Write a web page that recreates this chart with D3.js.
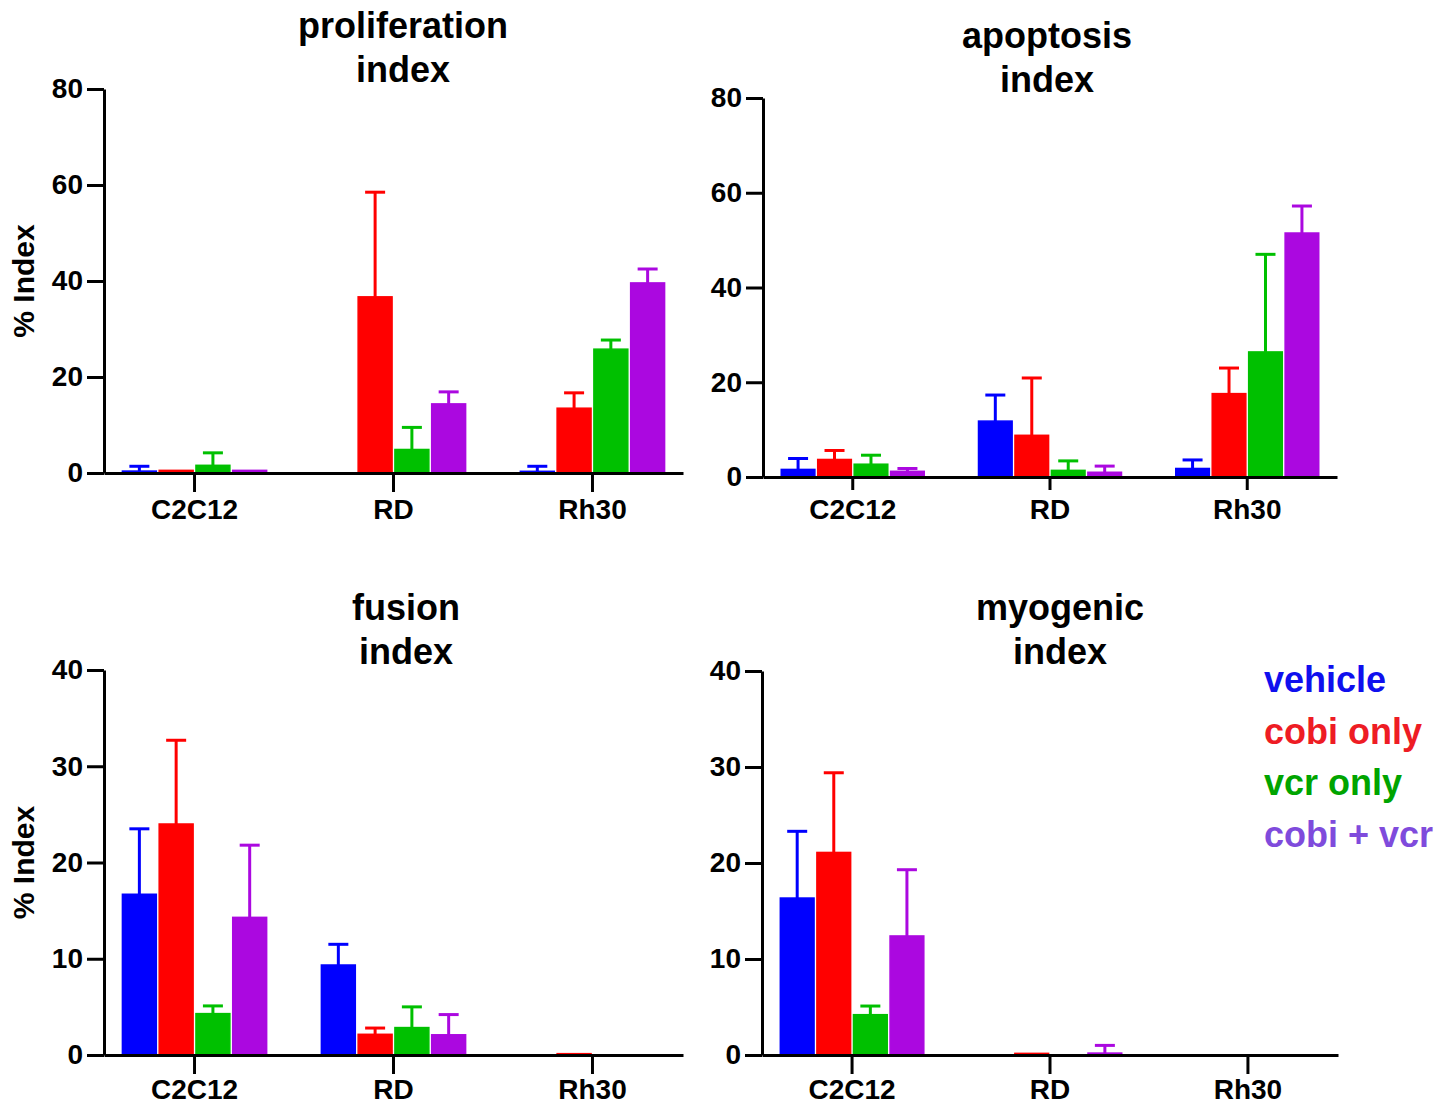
<!DOCTYPE html>
<html>
<head>
<meta charset="utf-8">
<script src="https://cdnjs.cloudflare.com/ajax/libs/d3/7.8.5/d3.min.js"></script>
<style>
    body { margin: 0; background: #fff; }
    svg text { font-family: "Liberation Sans", Arial, sans-serif; font-weight: bold; }
</style>
</head>
<body>
<div class="chart"></div>
<script>
// cell lines on the x axis, treatment groups as the bars in each cluster
var cells = [`C2C12`, `RD`, `Rh30`];
var groups = [`vehicle`, `cobi only`, `vcr only`, `cobi + vcr`];

// means per cell line (rows) and group (columns), plus upper error
var prolifMean = [[0.4, 0.55, 1.6, 0.55], [0, 36.7, 4.9, 14.4], [0.35, 13.5, 25.8, 39.6]];
var prolifErr = [[1.0, 0, 2.6, 0], [0, 21.8, 4.6, 2.5], [1.05, 3.2, 1.9, 2.9]];

var apopMean = [[1.6, 3.7, 2.7, 1.2], [11.8, 8.8, 1.4, 1.0], [1.8, 17.6, 26.4, 51.5]];
var apopErr = [[2.3, 1.9, 1.9, 0.6], [5.5, 12.1, 2.0, 1.3], [1.8, 5.4, 20.6, 5.7]];

var fusionMean = [[16.7, 24.0, 4.3, 14.3], [9.35, 2.15, 2.85, 2.1], [0, 0.14, 0, 0]];
var fusionErr = [[6.8, 8.7, 0.8, 7.5], [2.15, 0.65, 2.15, 2.1], [0, 0, 0, 0]];

var myoMean = [[16.35, 21.1, 4.2, 12.4], [0, 0.17, 0, 0.2], [0, 0, 0, 0]];
var myoErr = [[6.95, 8.3, 0.9, 6.9], [0, 0, 0, 0.8], [0, 0, 0, 0]];

var ticks80 = [0, 20, 40, 60, 80];
var ticks40 = [0, 10, 20, 30, 40];

var barColors = [`#0000ff`, `#ff0000`, `#00c000`, `#ab08e0`];
var legendColors = [`#0f0fee`, `#ee1c24`, `#00a400`, `#7f4bdc`];

var panels = [
    {title: [`proliferation`, `index`], mean: prolifMean, err: prolifErr, ticks: ticks80,
        x0: 104, x1: 683, y0: 473, y1: 89, titleX: 403, titleY: 38, ylabel: true, xTick: 19, xPad: 7},
    {title: [`apoptosis`, `index`], mean: apopMean, err: apopErr, ticks: ticks80,
        x0: 763, x1: 1337, y0: 477, y1: 98, titleX: 1047, titleY: 48, ylabel: false, xTick: 13, xPad: 9},
    {title: [`fusion`, `index`], mean: fusionMean, err: fusionErr, ticks: ticks40,
        x0: 104, x1: 683, y0: 1055, y1: 670, titleX: 406, titleY: 620, ylabel: true, xTick: 19, xPad: 5},
    {title: [`myogenic`, `index`], mean: myoMean, err: myoErr, ticks: ticks40,
        x0: 762, x1: 1338, y0: 1055, y1: 671, titleX: 1060, titleY: 620, ylabel: false, xTick: 19, xPad: 5}
];

var svg = d3.select(`.chart`)
    .append(`svg`)
    .attr(`width`, 1453)
    .attr(`height`, 1110);

panels.forEach(function (p) {
    var g = svg.append(`g`);

    var x = d3.scaleBand()
        .domain(cells)
        .range([p.x0, p.x1])
        .paddingInner(0.27)
        .paddingOuter(0.09);

    var xInner = d3.scaleBand()
        .domain(groups)
        .range([0, x.bandwidth()])
        .paddingInner(0.05);

    var y = d3.scaleLinear()
        .domain([0, p.ticks[p.ticks.length - 1]])
        .range([p.y0, p.y1]);

    // flatten into one record per bar
    var rows = [];
    cells.forEach(function (c, i) {
        groups.forEach(function (s, j) {
            rows.push({cell: c, group: s, j: j, mean: p.mean[i][j], err: p.err[i][j]});
        });
    });

    // thin same-colour stroke so very small bars still show as a sliver
    g.selectAll(`rect`)
        .data(rows.filter(d => d.mean > 0))
        .enter()
        .append(`rect`)
        .attr(`x`, d => x(d.cell) + xInner(d.group) + 0.5)
        .attr(`width`, xInner.bandwidth() - 1)
        .attr(`y`, d => y(d.mean))
        .attr(`height`, d => y(0) - y(d.mean))
        .style(`fill`, d => barColors[d.j])
        .style(`stroke`, d => barColors[d.j])
        .style(`stroke-width`, 1.5);

    var eb = g.selectAll(`.eb`)
        .data(rows.filter(d => d.err > 0))
        .enter()
        .append(`g`)
        .attr(`class`, `eb`)
        .style(`stroke`, d => barColors[d.j])
        .style(`stroke-width`, 3);

    eb.append(`line`)
        .attr(`x1`, d => x(d.cell) + xInner(d.group) + xInner.bandwidth() / 2)
        .attr(`x2`, d => x(d.cell) + xInner(d.group) + xInner.bandwidth() / 2)
        .attr(`y1`, d => y(d.mean))
        .attr(`y2`, d => y(d.mean + d.err));

    eb.append(`line`)
        .attr(`x1`, d => x(d.cell) + xInner(d.group) + xInner.bandwidth() / 2 - 10)
        .attr(`x2`, d => x(d.cell) + xInner(d.group) + xInner.bandwidth() / 2 + 10)
        .attr(`y1`, d => y(d.mean + d.err))
        .attr(`y2`, d => y(d.mean + d.err));

    var yAxis = d3.axisLeft(y)
        .tickValues(p.ticks)
        .tickSize(17)
        .tickSizeOuter(0)
        .tickPadding(4)
        .tickFormat(d3.format(`d`));

    g.append(`g`)
        .attr(`transform`, `translate(${p.x0},0)`)
        .call(yAxis)
        .call(a => a.selectAll(`path, line`).style(`stroke`, `#000`).style(`stroke-width`, 3))
        .call(a => a.selectAll(`text`).style(`font-size`, `28px`).style(`fill`, `#000`));

    var xAxis = d3.axisBottom(x)
        .tickSize(p.xTick)
        .tickSizeOuter(0)
        .tickPadding(p.xPad);

    g.append(`g`)
        .attr(`transform`, `translate(0,${p.y0})`)
        .call(xAxis)
        .call(a => a.selectAll(`path, line`).style(`stroke`, `#000`).style(`stroke-width`, 3))
        .call(a => a.selectAll(`text`).style(`font-size`, `28px`).style(`fill`, `#000`));

    g.selectAll(`.title`)
        .data(p.title)
        .enter()
        .append(`text`)
        .attr(`class`, `title`)
        .attr(`x`, p.titleX)
        .attr(`y`, (d, i) => p.titleY + i * 44)
        .attr(`text-anchor`, `middle`)
        .style(`font-size`, `36px`)
        .text(d => d);

    if (p.ylabel) {
        g.append(`text`)
            .attr(`transform`, `translate(34,${(p.y0 + p.y1) / 2}) rotate(-90)`)
            .attr(`text-anchor`, `middle`)
            .style(`font-size`, `30px`)
            .text(`% Index`);
    }
});

// legend sits to the right of the myogenic panel
svg.selectAll(`.legend`)
    .data(groups)
    .enter()
    .append(`text`)
    .attr(`class`, `legend`)
    .attr(`x`, 1264)
    .attr(`y`, (d, i) => 692 + i * 51.5)
    .style(`font-size`, `36px`)
    .style(`fill`, (d, i) => legendColors[i])
    .text(d => d);
</script>
</body>
</html>
